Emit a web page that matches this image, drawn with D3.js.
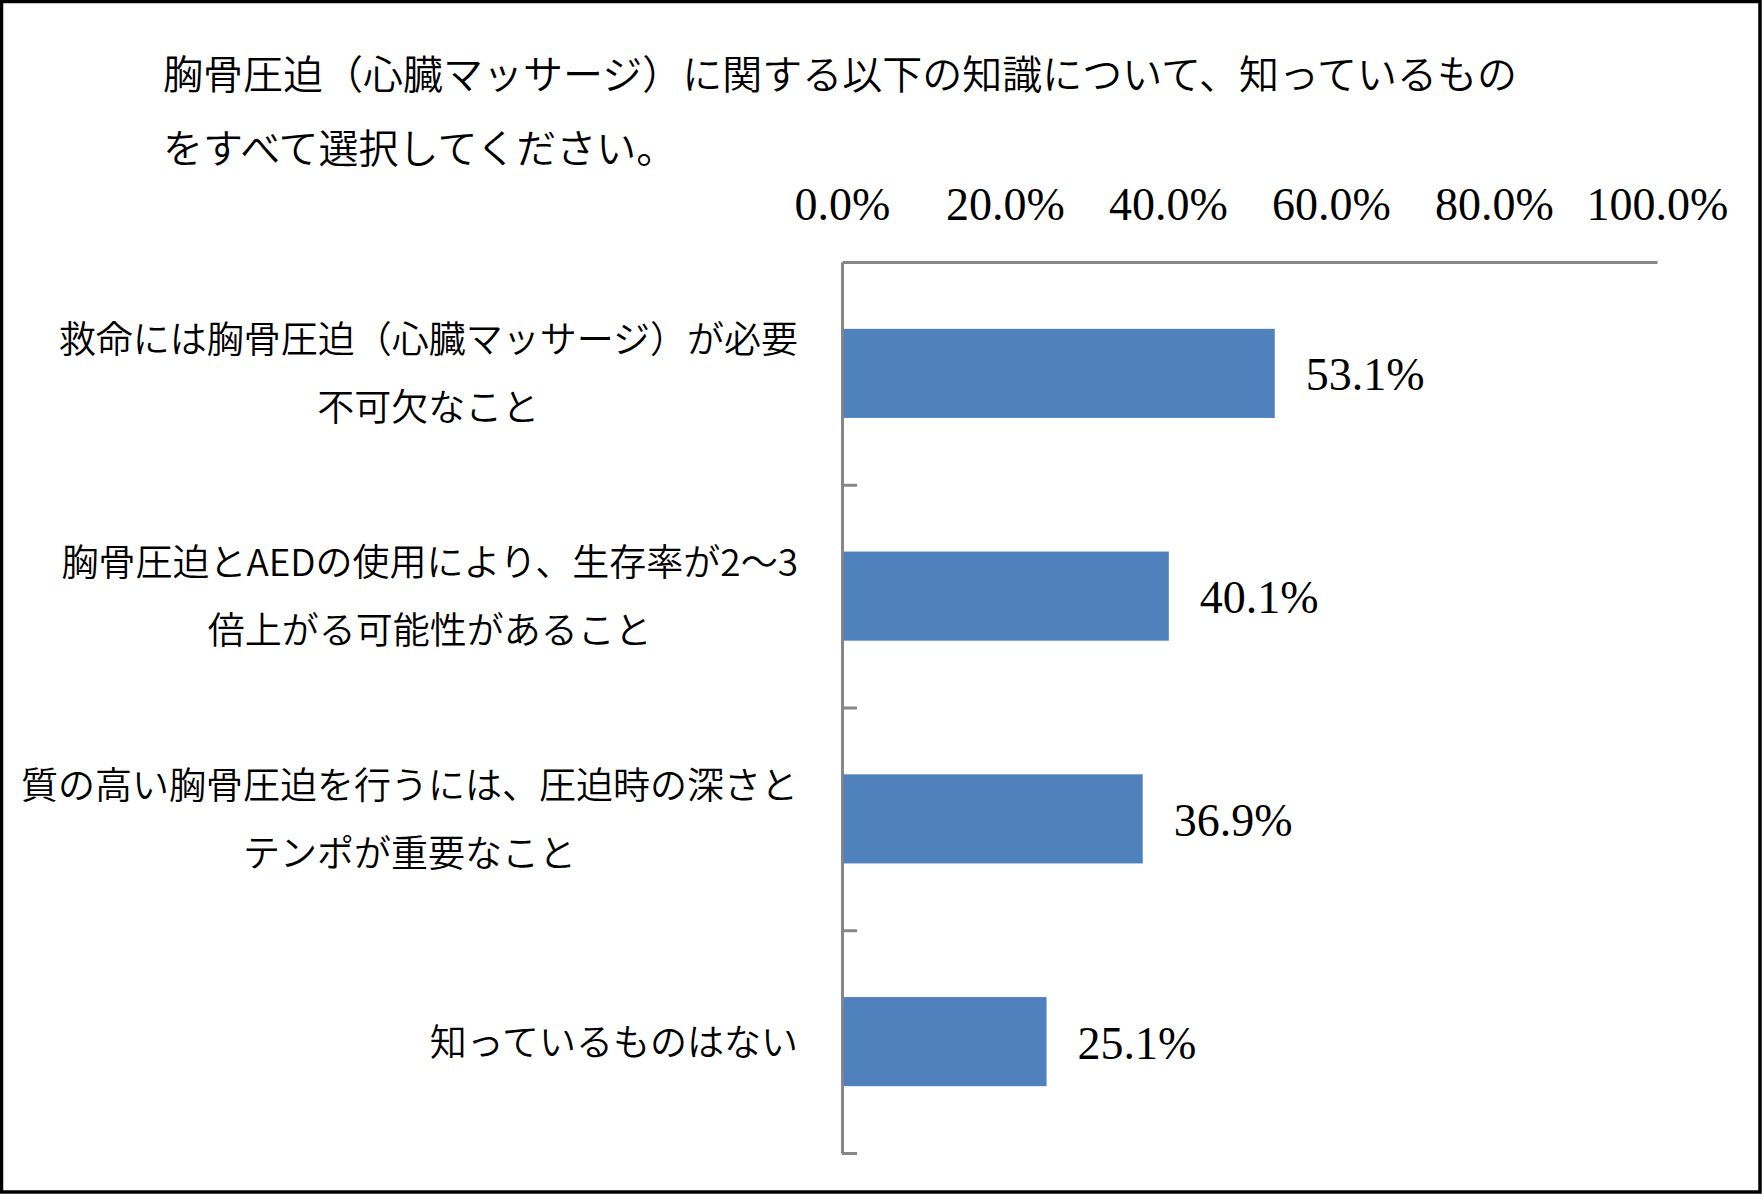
<!DOCTYPE html>
<html>
<head>
<meta charset="utf-8">
<script src="https://cdnjs.cloudflare.com/ajax/libs/d3/7.8.5/d3.min.js"></script>
<style>
  body { margin: 0; background: #fff; }
  svg { display: block; }
  .jp { font-family: "Noto Sans CJK JP", sans-serif; font-weight: 350; fill: #000; }
  .num { font-family: "Liberation Serif", serif; fill: #000; }
</style>
</head>
<body>
<svg id="chart" width="1762" height="1194"></svg>
<script>
'use strict';

// 設問と選択肢
var titleLines = [
  '胸骨圧迫（心臓マッサージ）に関する以下の知識について、知っているもの',
  'をすべて選択してください。'
];
var categories = [
  '救命には胸骨圧迫（心臓マッサージ）が必要\n不可欠なこと',
  '胸骨圧迫とAEDの使用により、生存率が2～3\n倍上がる可能性があること',
  '質の高い胸骨圧迫を行うには、圧迫時の深さと\nテンポが重要なこと',
  '知っているものはない'
];
var values = [53.1, 40.1, 36.9, 25.1];
var xTicks = [0, 20, 40, 60, 80, 100];

var width = 1762,
    height = 1194,
    plot = {left: 842, right: 1657, top: 262, bottom: 1153},
    axisColor = '#868686',
    barColor = '#4F81BD',
    pct = function(d) { return d3.format('.1f')(d) + '%'; };

var svg = d3.select('#chart');

// 外枠
svg.append('rect')
  .attr('x', 1.5)
  .attr('y', 1.5)
  .attr('width', width - 3.5)
  .attr('height', height - 3.5)
  .attr('fill', '#fff')
  .attr('stroke', '#000')
  .attr('stroke-width', 3.5);

// タイトル
svg.append('g').selectAll('text')
  .data(titleLines)
  .enter().append('text')
  .attr('class', 'jp')
  .attr('x', 163)
  .attr('y', function(d, i) { return 89 + i * 74; })
  .style('font-size', '40px')
  .text(function(d) { return d; });

var x = d3.scaleLinear()
  .domain([0, 100])
  .range([plot.left, plot.right]);

var y = d3.scaleBand()
  .domain(d3.range(categories.length))
  .range([plot.top, plot.bottom])
  .paddingInner(0.6)
  .paddingOuter(0.3);

// 区切り目盛り用
var yEdge = d3.scaleLinear()
  .domain([0, categories.length])
  .range([plot.top, plot.bottom]);

// 上の軸
var xAxis = svg.append('g')
  .attr('transform', 'translate(0,' + plot.top + ')')
  .call(d3.axisTop(x)
    .tickValues(xTicks)
    .tickSize(0)
    .tickPadding(42)
    .tickFormat(pct));

xAxis.select('.domain')
  .attr('stroke', axisColor)
  .attr('stroke-width', 3);
xAxis.selectAll('text')
  .attr('class', 'num')
  .style('font-size', '46px');

// 左の軸
var yAxis = svg.append('g')
  .attr('transform', 'translate(' + plot.left + ',0)')
  .call(d3.axisRight(yEdge)
    .ticks(categories.length)
    .tickSizeInner(15)
    .tickSizeOuter(0)
    .tickFormat(''));

yAxis.select('.domain')
  .attr('stroke', axisColor)
  .attr('stroke-width', 3);
yAxis.selectAll('.tick line')
  .attr('stroke', axisColor)
  .attr('stroke-width', 3)
  .filter(function(d) { return d === 0; })
  .remove();

// 棒
svg.append('g').selectAll('rect')
  .data(values)
  .enter().append('rect')
  .attr('x', x(0) + 1.5)
  .attr('y', function(d, i) { return y(i); })
  .attr('width', function(d) { return x(d) - x(0) - 1.5; })
  .attr('height', y.bandwidth())
  .attr('fill', barColor);

// 値ラベル
svg.append('g').selectAll('text')
  .data(values)
  .enter().append('text')
  .attr('class', 'num')
  .attr('x', function(d) { return x(d) + 31; })
  .attr('y', function(d, i) { return y(i) + y.bandwidth() / 2 + 17; })
  .style('font-size', '46px')
  .text(pct);

// 項目ラベル（複数行は中央揃え、ブロックは右揃え）
var labelRight = 798,
    lineGap = 68,
    labelSize = 37;

var labels = svg.append('g').selectAll('g')
  .data(categories)
  .enter().append('g');

labels.each(function(d, i) {
  var g = d3.select(this),
      lines = d.split('\n'),
      cy = y(i) + y.bandwidth() / 2,
      first = cy - (lines.length - 1) * lineGap / 2;

  var t = g.selectAll('text')
    .data(lines)
    .enter().append('text')
    .attr('class', 'jp')
    .attr('text-anchor', 'middle')
    .attr('y', function(l, j) { return first + j * lineGap + labelSize * 0.38; })
    .style('font-size', labelSize + 'px')
    .text(function(l) { return l; });

  var maxW = d3.max(t.nodes(), function(n) { return n.getComputedTextLength(); });
  t.attr('x', labelRight - maxW / 2);
});
</script>
</body>
</html>
